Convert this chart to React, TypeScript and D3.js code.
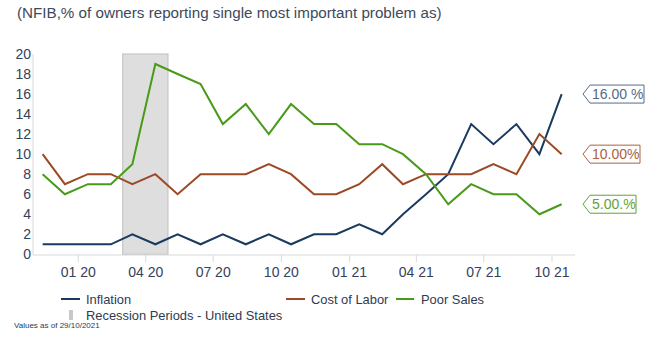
import React from 'react';
import * as d3 from 'd3';

const months: string[] = [
  '2019-11-14', '2019-12-14', '2020-01-14', '2020-02-14', '2020-03-14', '2020-04-14',
  '2020-05-14', '2020-06-14', '2020-07-14', '2020-08-14', '2020-09-14', '2020-10-14',
  '2020-11-14', '2020-12-14', '2021-01-14', '2021-02-14', '2021-03-14', '2021-04-14',
  '2021-05-14', '2021-06-14', '2021-07-14', '2021-08-14', '2021-09-14', '2021-10-14',
];
const inflation = [1, 1, 1, 1, 2, 1, 2, 1, 2, 1, 2, 1, 2, 2, 3, 2, 4, 6, 8, 13, 11, 13, 10, 16];
const costOfLabor = [10, 7, 8, 8, 7, 8, 6, 8, 8, 8, 9, 8, 6, 6, 7, 9, 7, 8, 8, 8, 9, 8, 12, 10];
const poorSales = [8, 6, 7, 7, 9, 19, 18, 17, 13, 15, 12, 15, 13, 13, 11, 11, 10, 8, 5, 7, 6, 6, 4, 5];
const recession = ['2020-03-01', '2020-05-01'];
const xDomain = ['2019-11-01', '2021-11-01'];
const xTicks = ['2020-01-01', '2020-04-01', '2020-07-01', '2020-10-01', '2021-01-01', '2021-04-01', '2021-07-01', '2021-10-01'];
const yTicks = [0, 2, 4, 6, 8, 10, 12, 14, 16, 18, 20];
const lastLabels = ['16.00 %', '10.00%', '5.00.%'];
const seriesNames = ['Inflation', 'Cost of Labor', 'Poor Sales'];

const FONT = '"Liberation Sans", Arial, sans-serif';
const colors = ['#1b3a5f', '#9c4a26', '#4a9a1a'];
const labelColors = ['#546a8a', '#a9623f', '#5ea438'];

export default function App() {
  const parse = d3.utcParse('%Y-%m-%d');
  const dates = months.map((m) => parse(m) as Date);
  const x = d3.scaleUtc().domain(xDomain.map((d) => parse(d) as Date)).range([33, 575]);
  const y = d3.scaleLinear().domain([0, 20]).range([254.3, 54]);
  const fmt = d3.utcFormat('%m %y');
  const series = [inflation, costOfLabor, poorSales];
  const line = d3
    .line<number>()
    .x((_, i) => x(dates[i]))
    .y((v) => y(v));

  const rx0 = x(parse(recession[0]) as Date);
  const rx1 = x(parse(recession[1]) as Date);
  const labelW = [54, 50, 46];

  return (
    <svg width={657} height={351} style={{ position: 'absolute', left: 0, top: 0, background: '#fff' }} fontFamily={FONT}>
      <text x={17} y={18} fontSize={15.2} fill="#3d4a5c">
        (NFIB,% of owners reporting single most important problem as)
      </text>
      {/* recession band */}
      <rect x={rx0} y={y(20)} width={rx1 - rx0} height={y(0) - y(20)} fill="#dedede" stroke="#c6c6c6" strokeWidth={1.2} />
      {/* axes */}
      <line x1={33} x2={33} y1={y(20)} y2={255} stroke="#d9d9d9" />
      <line x1={33} x2={575} y1={255} y2={255} stroke="#d9d9d9" />
      {yTicks.map((t) => (
        <text key={t} x={31} y={y(t)} dy="0.35em" textAnchor="end" fontSize={14} fill="#34425a">
          {t}
        </text>
      ))}
      {xTicks.map((t) => {
        const d = parse(t) as Date;
        const xx = x(d);
        return (
          <g key={t}>
            <line x1={xx} x2={xx} y1={255} y2={262} stroke="#d9d9d9" />
            <text x={xx} y={277} textAnchor="middle" fontSize={14} fill="#34425a">
              {fmt(d)}
            </text>
          </g>
        );
      })}
      {series.map((s, i) => (
        <path key={i} d={line(s) || ''} fill="none" stroke={colors[i]} strokeWidth={2} strokeLinejoin="miter" />
      ))}
      {series.map((s, i) => {
        const cy = y(s[s.length - 1]);
        const tip = 583;
        const left = 590;
        const right = left + labelW[i];
        const h = 18;
        const p = `M${tip},${cy} L${left},${cy - h / 2} L${right},${cy - h / 2} L${right},${cy + h / 2} L${left},${cy + h / 2} Z`;
        return (
          <g key={'l' + i}>
            <path d={p} fill="#fff" stroke={labelColors[i]} strokeWidth={1} />
            <text x={left + 2} y={cy} dy="0.36em" fontSize={14} fill={labelColors[i]}>
              {lastLabels[i]}
            </text>
          </g>
        );
      })}
      {/* legend */}
      <g fontSize={12.9} fill="#2e3b50">
        <line x1={61} x2={80} y1={299} y2={299} stroke={colors[0]} strokeWidth={2} />
        <text x={86} y={304}>{seriesNames[0]}</text>
        <line x1={286} x2={305} y1={299} y2={299} stroke={colors[1]} strokeWidth={2} />
        <text x={311} y={304}>{seriesNames[1]}</text>
        <line x1={396} x2={414} y1={299} y2={299} stroke={colors[2]} strokeWidth={2} />
        <text x={421} y={304}>{seriesNames[2]}</text>
        <rect x={69} y={310} width={4} height={10} fill="#c8c8c8" />
        <text x={86} y={319.5}>Recession Periods - United States</text>
      </g>
      <text x={14} y={328} fontSize={8} fill="#2e3b50">
        Values as of 29/10/2021
      </text>
    </svg>
  );
}
